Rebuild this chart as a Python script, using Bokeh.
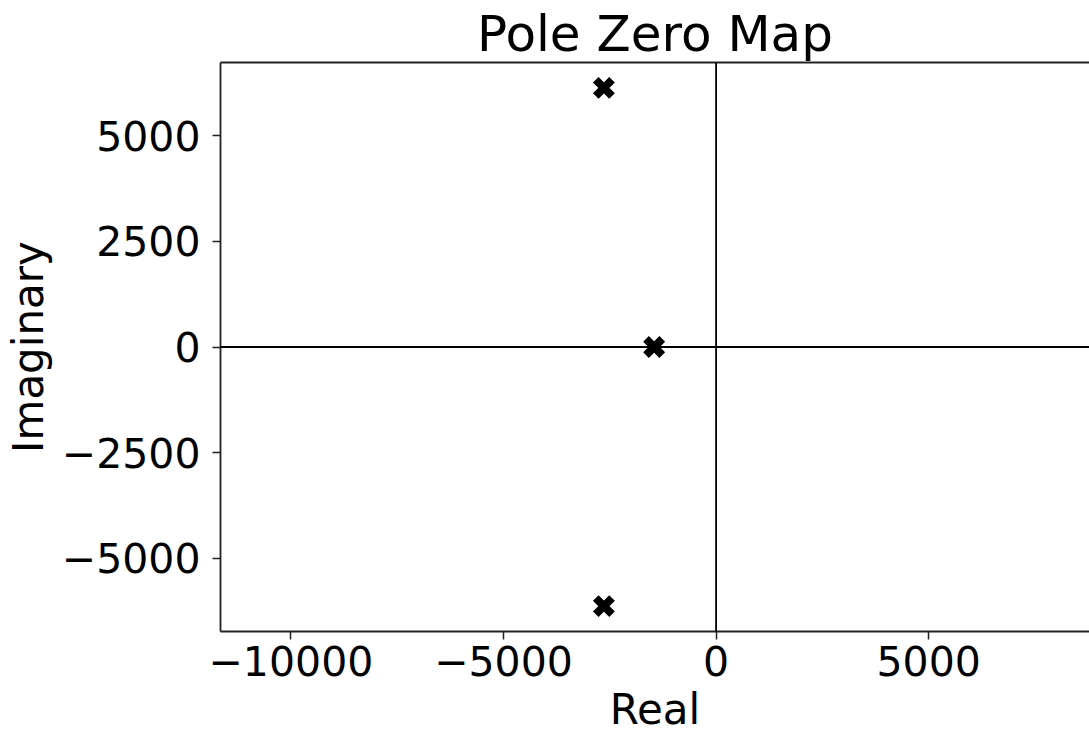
from bokeh.plotting import figure
from bokeh.models import Span, LinearAxis, FixedTicker, Range1d
from bokeh.embed import file_html
from bokeh.resources import INLINE

# ---- data ----
pole_real = [-2639, -1457, -2639]
pole_imag = [6128, 0, -6128]
x_ticks = [-10000, -5000, 0, 5000]
y_ticks = [-5000, -2500, 0, 2500, 5000]
x_limits = (-11656, 8782)
y_limits = (-6729, 6729)

FONT = "DejaVu Sans"
TICK_SIZE = "41px"
LABEL_SIZE = "42px"
TITLE_SIZE = "50px"


def fmt(t):
    return str(t).replace("-", "\u2212")


p = figure(
    width=1089, height=736,
    x_range=Range1d(*x_limits), y_range=Range1d(*y_limits),
    output_backend="svg", toolbar_location=None,
    title="Pole Zero Map",
    x_axis_label="Real", y_axis_label="Imaginary",
    min_border_left=219, min_border_right=0, min_border_top=62, min_border_bottom=103,
)
p.grid.visible = False
p.outline_line_color = None
p.background_fill_color = "white"
p.border_fill_color = "white"

p.title.text_font = FONT
p.title.text_font_size = TITLE_SIZE
p.title.text_font_style = "normal"
p.title.align = "center"
p.title.offset = 5
p.title.text_color = "black"
p.title.standoff = 0

for ax in (p.xaxis[0], p.yaxis[0]):
    ax.axis_line_width = 1.8
    ax.axis_line_color = "#222222"
    ax.major_tick_line_width = 1.5
    ax.major_tick_line_color = "#222222"
    ax.major_tick_out = 8
    ax.major_tick_in = 0
    ax.minor_tick_line_color = None
    ax.major_label_text_font = FONT
    ax.major_label_text_font_size = TICK_SIZE
    ax.major_label_text_color = "black"
    ax.axis_label_text_font = FONT
    ax.axis_label_text_font_size = LABEL_SIZE
    ax.axis_label_text_font_style = "normal"
    ax.axis_label_text_color = "black"

p.xaxis[0].ticker = FixedTicker(ticks=x_ticks)
p.xaxis[0].major_label_overrides = {t: fmt(t) for t in x_ticks}
p.xaxis[0].major_label_standoff = 6
p.xaxis[0].axis_label_standoff = 6
p.yaxis[0].ticker = FixedTicker(ticks=y_ticks)
p.yaxis[0].major_label_overrides = {t: fmt(t) for t in y_ticks}
p.yaxis[0].major_label_standoff = 12
p.yaxis[0].axis_label_standoff = 6

# top spine (no ticks, no labels)
top = LinearAxis(ticker=FixedTicker(ticks=[]), major_label_text_font_size="0px",
                 major_tick_out=0, major_tick_in=0, minor_tick_out=0, minor_tick_in=0,
                 axis_line_width=1.8, axis_line_color="#222222")
p.add_layout(top, "above")

# zero lines
p.add_layout(Span(location=0, dimension="width", line_color="black", line_width=1.8))
p.add_layout(Span(location=0, dimension="height", line_color="black", line_width=1.8))

# poles
p.scatter(pole_real, pole_imag, marker="x", size=23, line_width=8, color="black")

open("out.html", "w").write(file_html(p, INLINE))
